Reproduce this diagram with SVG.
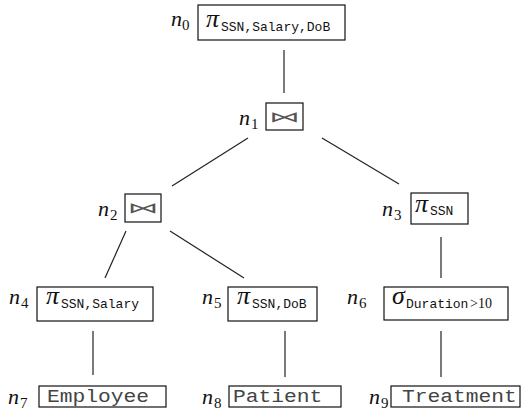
<svg xmlns="http://www.w3.org/2000/svg" width="523" height="420" viewBox="0 0 523 420">
<style>
.box{fill:#fff;stroke:#111;stroke-width:1.2}
.lbl{font-family:"Liberation Serif",serif;font-style:italic;font-size:22px;fill:#111}
.lsub{font-family:"Liberation Serif",serif;font-size:15px;fill:#111}
.op{font-family:"Liberation Serif",serif;font-style:italic;font-size:26px;fill:#111}
.tt{font-family:"Liberation Mono",monospace;font-size:13px;fill:#111}
.rm{font-family:"Liberation Serif",serif;font-size:14px;fill:#111}
.rel{font-family:"Liberation Mono",monospace;font-size:19px;fill:#444}
.bt{font-family:"DejaVu Sans",sans-serif;font-size:15px;fill:#555}
.edge{stroke:#222;stroke-width:1.2;fill:none}
</style>
<rect width="523" height="420" fill="#fff"/>
<g id="edges">
<line class="edge" x1="284" y1="50" x2="284" y2="93"/>
<line class="edge" x1="248" y1="138" x2="172" y2="186"/>
<line class="edge" x1="322" y1="138" x2="399" y2="184"/>
<line class="edge" x1="126" y1="231" x2="105" y2="278"/>
<line class="edge" x1="170" y1="231" x2="244" y2="278"/>
<line class="edge" x1="441" y1="237" x2="441" y2="278"/>
<line class="edge" x1="93" y1="331" x2="93" y2="375"/>
<line class="edge" x1="285" y1="331" x2="285" y2="377"/>
<line class="edge" x1="441" y1="331" x2="441" y2="377"/>
</g>
<g id="n0">
<text class="lbl" x="171" y="26">n</text><text class="lsub" x="182" y="30">0</text>
<rect class="box" x="198" y="5" width="147" height="35"/>
<text class="op" x="206" y="27">π</text><text class="tt" x="221" y="31">SSN,Salary,DoB</text>
</g>
<g id="n1">
<text class="lbl" x="239" y="125">n</text><text class="lsub" x="251" y="129">1</text>
<rect class="box" x="266" y="103" width="37" height="27"/>
<text class="bt" transform="translate(284.5,122) scale(2.1,1)" text-anchor="middle">⋈</text>
</g>
<g id="n2">
<text class="lbl" x="98" y="216">n</text><text class="lsub" x="110" y="220">2</text>
<rect class="box" x="125" y="194" width="36" height="28"/>
<text class="bt" transform="translate(143,213) scale(2.1,1)" text-anchor="middle">⋈</text>
</g>
<g id="n3">
<text class="lbl" x="382" y="216">n</text><text class="lsub" x="394" y="220">3</text>
<rect class="box" x="411" y="193" width="57" height="31"/>
<text class="op" x="415" y="212">π</text><text class="tt" x="430" y="215">SSN</text>
</g>
<g id="n4">
<text class="lbl" x="9" y="304">n</text><text class="lsub" x="21" y="308">4</text>
<rect class="box" x="37" y="287" width="116" height="34"/>
<text class="op" x="46" y="304">π</text><text class="tt" x="61" y="308">SSN,Salary</text>
</g>
<g id="n5">
<text class="lbl" x="202" y="304">n</text><text class="lsub" x="214" y="308">5</text>
<rect class="box" x="228" y="287" width="89" height="34"/>
<text class="op" x="237" y="304">π</text><text class="tt" x="252" y="308">SSN,DoB</text>
</g>
<g id="n6">
<text class="lbl" x="347" y="304">n</text><text class="lsub" x="359" y="308">6</text>
<rect class="box" x="384" y="287" width="124" height="33"/>
<text class="op" x="392" y="304">σ</text><text class="tt" x="406" y="308">Duration</text><text class="rm" x="470" y="308">&gt;10</text>
</g>
<g id="n7">
<text class="lbl" x="8" y="404">n</text><text class="lsub" x="20" y="408">7</text>
<rect class="box" x="39" y="386" width="127" height="21"/>
<text class="rel" transform="translate(47,402) scale(1.12,1)">Employee</text>
</g>
<g id="n8">
<text class="lbl" x="202" y="404">n</text><text class="lsub" x="214" y="408">8</text>
<rect class="box" x="229" y="386" width="112" height="21"/>
<text class="rel" transform="translate(233,402) scale(1.12,1)">Patient</text>
</g>
<g id="n9">
<text class="lbl" x="369" y="404">n</text><text class="lsub" x="381" y="408">9</text>
<rect class="box" x="391" y="386" width="129" height="21"/>
<text class="rel" transform="translate(402,402) scale(1.12,1)">Treatment</text>
</g>
</svg>
